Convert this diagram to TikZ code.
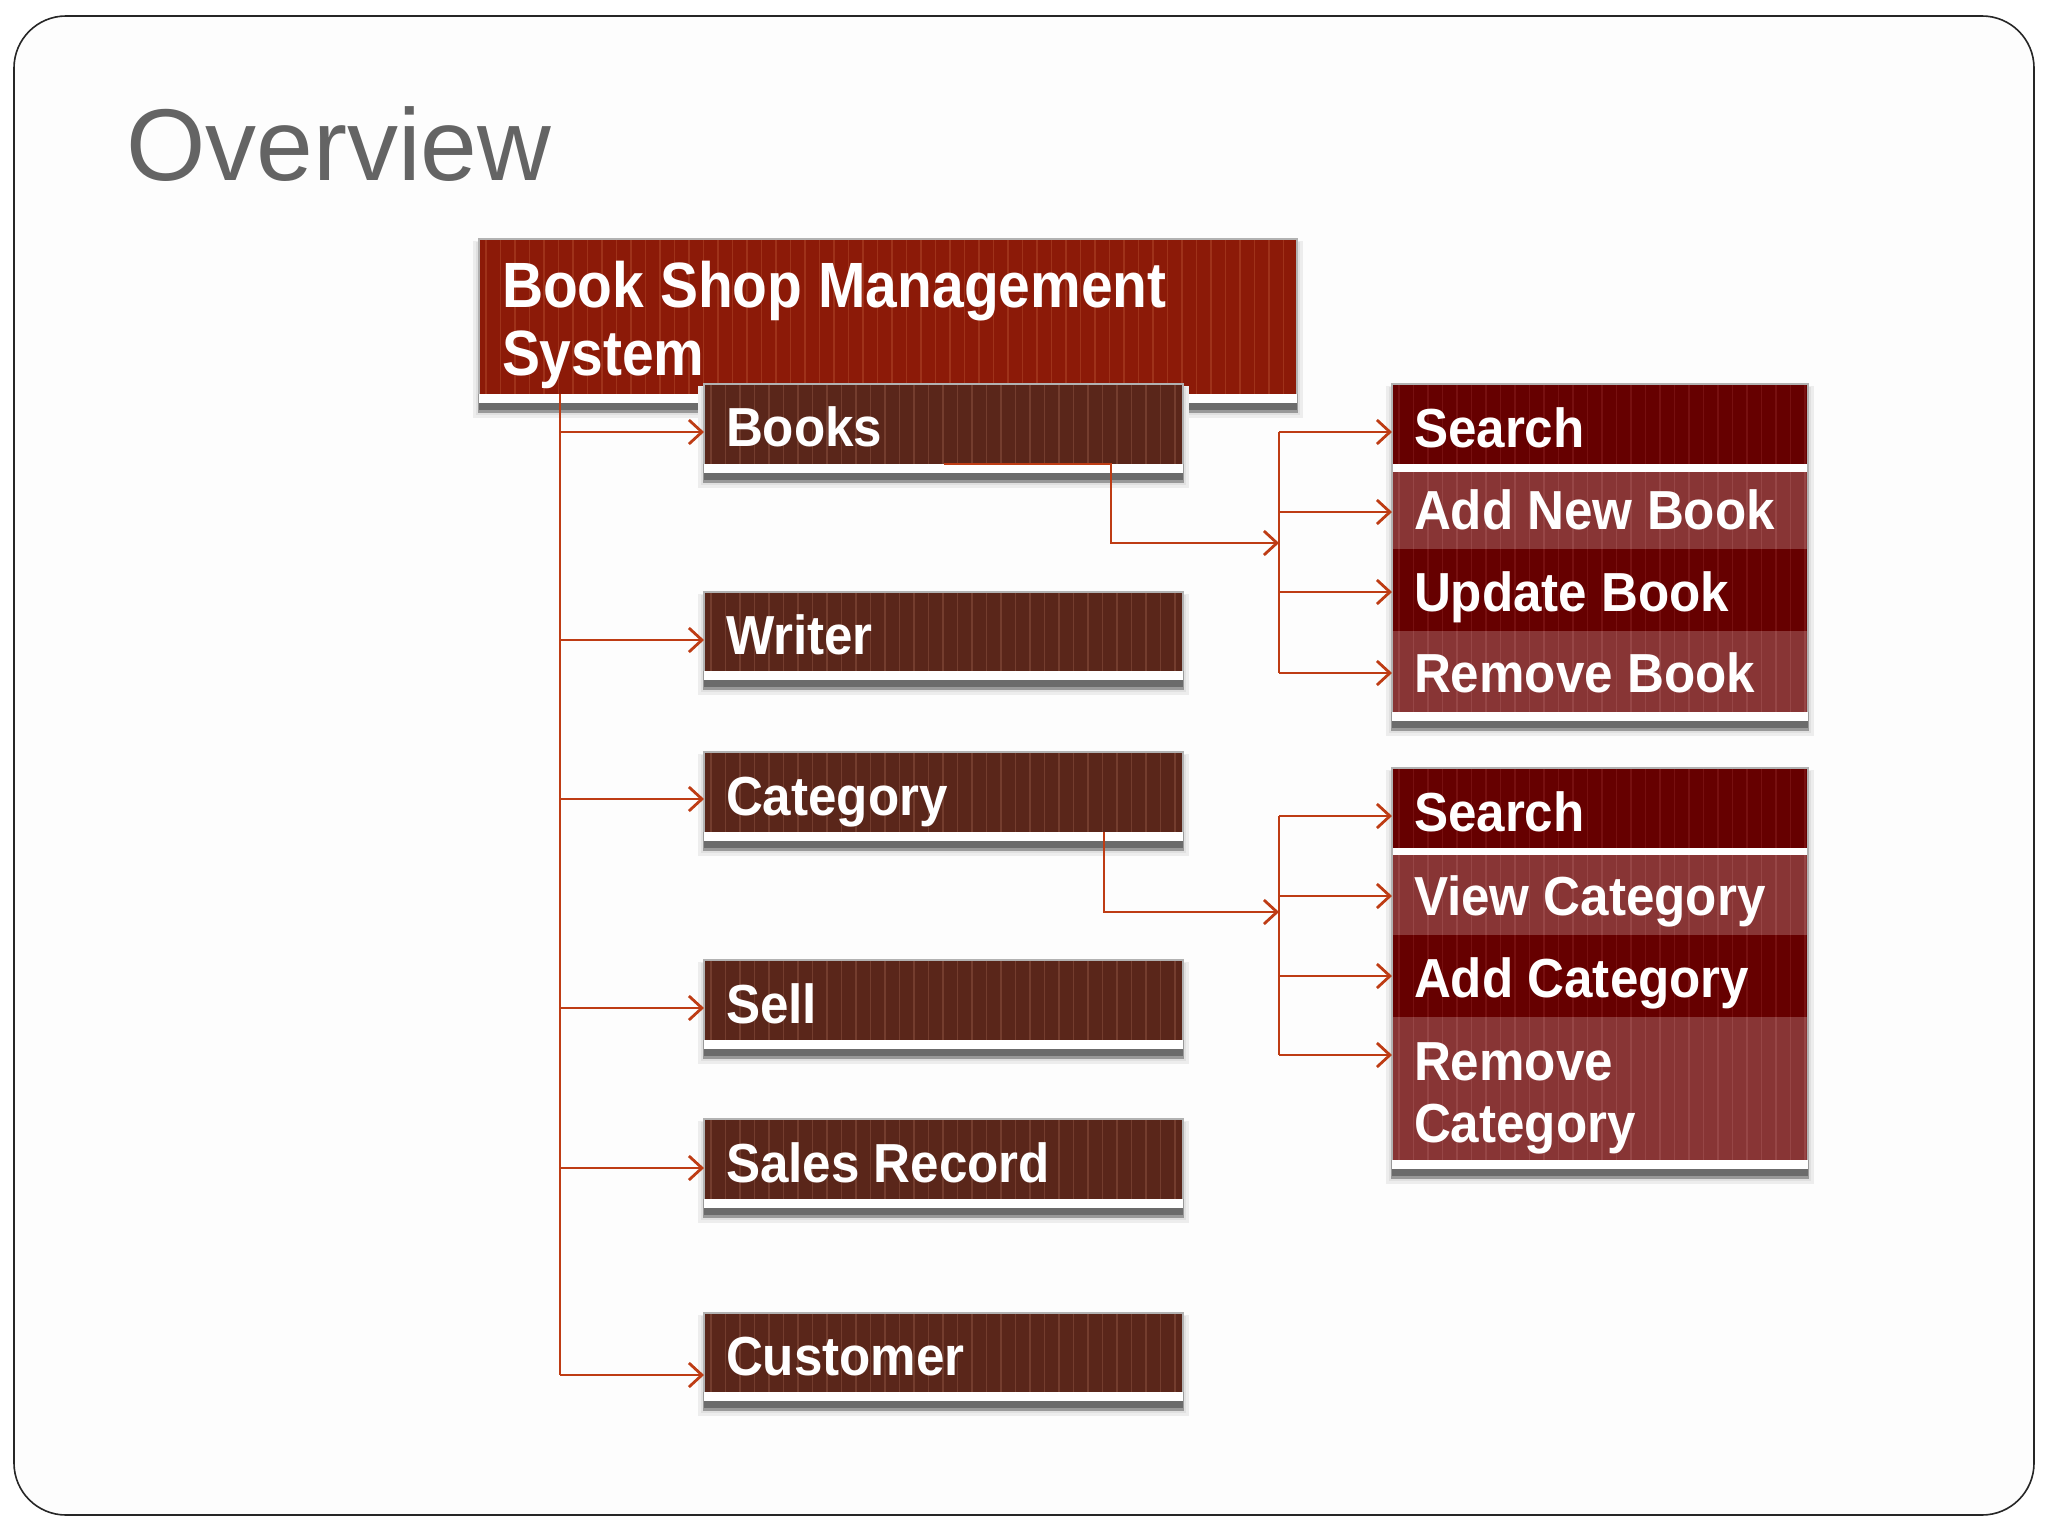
\documentclass[tikz,border=0pt]{standalone}
\usepackage{fontspec}
\setmainfont{Liberation Sans}
\newfontfamily\boxfont{Liberation Sans}[FakeStretch=0.93]
\newfontfamily\mainfont{Liberation Sans}[FakeStretch=0.89]
\usetikzlibrary{arrows.meta}
\definecolor{conncol}{HTML}{BE3C14}
\definecolor{mainred}{HTML}{8C1A08}
\definecolor{mainstripe}{HTML}{B85030}
\definecolor{childbrown}{HTML}{5A261A}
\definecolor{childstripe}{HTML}{8A5040}
\definecolor{darkrow}{HTML}{660000}
\definecolor{darkstripe}{HTML}{882020}
\definecolor{lightrow}{HTML}{883535}
\definecolor{lightstripe}{HTML}{A65858}
\definecolor{titlegray}{HTML}{646464}
\definecolor{bgfill}{HTML}{FDFDFD}
\tikzset{
  boxfill/.style={inner sep=0pt, outer sep=0pt, anchor=north west, draw=none},
  boxtext/.style={anchor=base west, inner sep=0pt, outer sep=0pt, text=white,
    font={\boxfont\bfseries\fontsize{55}{60}\selectfont}},
  maintext/.style={boxtext, font={\mainfont\bfseries\fontsize{64}{68}\selectfont}},
  conn/.style={draw=conncol, line width=2.4pt},
  arr/.style={conn, -{Straight Barb[length=13pt,width=24pt,line width=2.8pt]}},
}
\newcommand\stripes[3]{%
  \begin{scope}
    \clip (#1.north west) rectangle (#1.south east);
    \foreach \i in {0,...,60}{
      \draw[#2, line width=1.6pt, opacity=#3]
        ([xshift=\i*14.5pt+7pt]#1.north west) -- ([xshift=\i*14.5pt+7pt]#1.south west);
    }
  \end{scope}}
% name, x1, ytop, x2, ybottom, fill, stripe colour, stripe opacity
\newcommand\colbox[8]{%
  \node[boxfill, fill=#6, minimum width={#4-#2}, minimum height={#5-#3}] (#1) at (#2,#3) {};
  \stripes{#1}{#7}{#8}}
% shadow/white band below a box: x1, ytop, x2, ybottom
\newcommand\boxshadow[4]{%
  \fill[black!7] (#1-6,#2+2) rectangle (#3+6,#4+24);
  \fill[black!12] (#1-3,#2+3) rectangle (#3+3,#4+21);
  \fill[black!40] (#1-1,#4) rectangle (#3+1,#4+19);
  \fill[black!58] (#1,#4) rectangle (#3,#4+16);
  \fill[white] (#1,#4) rectangle (#3,#4+9);}
\newcommand\topedge[1]{%
  \draw[black!30, line width=1.2pt] (#1.south west) -- (#1.north west) -- (#1.north east) -- (#1.south east);}
\begin{document}
\begin{tikzpicture}[x=1pt,y=-1pt]
\useasboundingbox (0,0) rectangle (2048,1536);
\fill[white] (0,0) rectangle (2048,1536);
\draw[fill=bgfill, draw=black!85, line width=1.6pt, rounded corners=52pt] (14,16) rectangle (2034,1515);

% title
\node[anchor=base west, inner sep=0pt, text=titlegray, font={\fontsize{102}{110}\selectfont}] (title) at (126,180) {Overview};

% main box
\boxshadow{479}{239}{1297}{394}
\colbox{main}{479}{239}{1297}{394}{mainred}{mainstripe}{0.45}
\topedge{main}
\node[maintext] (mainT1) at (502,307) {Book Shop Management};
\node[maintext] (mainT2) at (502,375) {System};

% child boxes
\boxshadow{704}{384}{1183}{464}
\colbox{books}{704}{384}{1183}{464}{childbrown}{childstripe}{0.55}
\topedge{books}
\node[boxtext] (booksT) at (726,446) {Books};

\boxshadow{704}{592}{1183}{671}
\colbox{writer}{704}{592}{1183}{671}{childbrown}{childstripe}{0.55}
\topedge{writer}
\node[boxtext] (writerT) at (726,654) {Writer};

\boxshadow{704}{752}{1183}{832}
\colbox{category}{704}{752}{1183}{832}{childbrown}{childstripe}{0.55}
\topedge{category}
\node[boxtext] (categoryT) at (726,815) {Category};

\boxshadow{704}{960}{1183}{1040}
\colbox{sell}{704}{960}{1183}{1040}{childbrown}{childstripe}{0.55}
\topedge{sell}
\node[boxtext] (sellT) at (726,1023) {Sell};

\boxshadow{704}{1119}{1183}{1199}
\colbox{sales}{704}{1119}{1183}{1199}{childbrown}{childstripe}{0.55}
\topedge{sales}
\node[boxtext] (salesT) at (726,1182) {Sales Record};

\boxshadow{704}{1313}{1183}{1392}
\colbox{customer}{704}{1313}{1183}{1392}{childbrown}{childstripe}{0.55}
\topedge{customer}
\node[boxtext] (customerT) at (726,1375) {Customer};

% right group 1
\boxshadow{1392}{384}{1808}{712}
\colbox{sa}{1392}{384}{1808}{464}{darkrow}{darkstripe}{0.5}
\colbox{ab}{1392}{472}{1808}{549}{lightrow}{lightstripe}{0.5}
\colbox{ub}{1392}{549}{1808}{631}{darkrow}{darkstripe}{0.5}
\colbox{rb}{1392}{631}{1808}{712}{lightrow}{lightstripe}{0.5}
\fill[white] (1392,464) rectangle (1808,472);
\draw[black!30, line width=1.2pt] (rb.south west) -- (sa.north west) -- (sa.north east) -- (rb.south east);
\node[boxtext] (saT) at (1414,447) {Search};
\node[boxtext] (abT) at (1414,529) {Add New Book};
\node[boxtext] (ubT) at (1414,611) {Update Book};
\node[boxtext] (rbT) at (1414,692) {Remove Book};

% right group 2
\boxshadow{1392}{768}{1808}{1160}
\colbox{sc}{1392}{768}{1808}{848}{darkrow}{darkstripe}{0.5}
\colbox{vc}{1392}{855}{1808}{935}{lightrow}{lightstripe}{0.5}
\colbox{ac}{1392}{935}{1808}{1017}{darkrow}{darkstripe}{0.5}
\colbox{rc}{1392}{1017}{1808}{1160}{lightrow}{lightstripe}{0.5}
\fill[white] (1392,848) rectangle (1808,855);
\draw[black!30, line width=1.2pt] (rc.south west) -- (sc.north west) -- (sc.north east) -- (rc.south east);
\node[boxtext] (scT) at (1414,831) {Search};
\node[boxtext] (vcT) at (1414,915) {View Category};
\node[boxtext] (acT) at (1414,997) {Add Category};
\node[boxtext] (rcT1) at (1414,1080) {Remove};
\node[boxtext] (rcT2) at (1414,1142) {Category};

% connectors: trunk
\coordinate (trunkTop) at (main.south -| 560,0);
\coordinate (trunkEnd) at (560,1375);
\draw[conn] (trunkTop) -- (trunkEnd);
\draw[arr] (560,432) -- (books.west |- 0,432);
\draw[arr] (560,640) -- (writer.west |- 0,640);
\draw[arr] (560,799) -- (category.west |- 0,799);
\draw[arr] (560,1008) -- (sell.west |- 0,1008);
\draw[arr] (560,1168) -- (sales.west |- 0,1168);
\draw[arr] (trunkEnd) -- (customer.west |- trunkEnd);

% books branch
\coordinate (hub1) at (1279,543);
\draw[arr] (books.south -| 944,0) -| (1111,543) -- (hub1);
\draw[conn] (1279,432) -- (1279,673);
\draw[arr] (1279,432) -- (sa.west |- 0,432);
\draw[arr] (1279,512) -- (ab.west |- 0,512);
\draw[arr] (1279,592) -- (ub.west |- 0,592);
\draw[arr] (1279,673) -- (rb.west |- 0,673);

% category branch
\coordinate (hub2) at (1279,912);
\draw[arr] (category.south -| 1104,0) -- (1104,912) -- (hub2);
\draw[conn] (1279,816) -- (1279,1055);
\draw[arr] (1279,816) -- (sc.west |- 0,816);
\draw[arr] (1279,896) -- (vc.west |- 0,896);
\draw[arr] (1279,976) -- (ac.west |- 0,976);
\draw[arr] (1279,1055) -- (rc.west |- 0,1055);
\end{tikzpicture}
\end{document}
